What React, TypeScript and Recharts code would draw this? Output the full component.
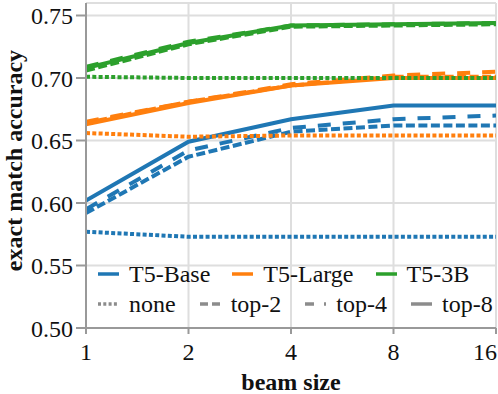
import React from 'react';
import { LineChart, Line, XAxis, YAxis, CartesianGrid, Legend, ReferenceLine } from 'recharts';

const FONT = 'Liberation Serif';

const beamSizes = [1, 2, 4, 8, 16];
const yTicks = [0.5, 0.55, 0.6, 0.65, 0.7, 0.75];

const baseNone = [0.577, 0.573, 0.573, 0.573, 0.573];
const baseTop2 = [0.592, 0.637, 0.657, 0.662, 0.662];
const baseTop4 = [0.595, 0.642, 0.660, 0.667, 0.670];
const baseTop8 = [0.602, 0.649, 0.667, 0.678, 0.678];

const largeNone = [0.656, 0.653, 0.654, 0.654, 0.654];
const largeTop2 = [0.664, 0.681, 0.694, 0.701, 0.701];
const largeTop4 = [0.665, 0.681, 0.695, 0.702, 0.705];
const largeTop8 = [0.663, 0.680, 0.694, 0.700, 0.700];

const xlNone = [0.701, 0.700, 0.700, 0.700, 0.700];
const xlTop2 = [0.706, 0.727, 0.741, 0.742, 0.743];
const xlTop4 = [0.709, 0.729, 0.742, 0.743, 0.744];
const xlTop8 = [0.708, 0.728, 0.742, 0.743, 0.744];

const models = [
  { key: 'base', name: 'T5-Base', color: '#1f77b4' },
  { key: 'large', name: 'T5-Large', color: '#ff7f0e' },
  { key: 'xl', name: 'T5-3B', color: '#2ca02c' },
];

const styles = [
  { key: 'none', name: 'none', dash: '4 2.3', legendDash: '3 2.3' },
  { key: 'top2', name: 'top-2', dash: '9 3.5', legendDash: '8 4' },
  { key: 'top4', name: 'top-4', dash: '13 12', legendDash: '9 10' },
  { key: 'top8', name: 'top-8', dash: undefined as string | undefined, legendDash: undefined as string | undefined },
];

const seriesValues: Record<string, number[]> = {
  base_none: baseNone, base_top2: baseTop2, base_top4: baseTop4, base_top8: baseTop8,
  large_none: largeNone, large_top2: largeTop2, large_top4: largeTop4, large_top8: largeTop8,
  xl_none: xlNone, xl_top2: xlTop2, xl_top4: xlTop4, xl_top8: xlTop8,
};

const data = beamSizes.map((b, i) => {
  const row: Record<string, number> = { beam: b };
  Object.keys(seriesValues).forEach((k) => { row[k] = seriesValues[k][i]; });
  return row;
});

const LEGEND_GRAY = '#8c8c8c';

const Sample = ({ color, dash }: { color: string; dash?: string }) => (
  <svg width={21} height={8} style={{ display: 'block', flex: 'none' }}>
    <line x1={0} y1={4} x2={21} y2={4} stroke={color} strokeWidth={3.5} strokeDasharray={dash} />
  </svg>
);

const LegendContent = () => (
  <div style={{ fontFamily: FONT, fontSize: 24, color: '#111', lineHeight: '30px', textAlign: 'left' }}>
    <div style={{ display: 'flex', alignItems: 'center', height: 30 }}>
      {models.map((m) => (
        <div key={m.key} style={{ display: 'flex', alignItems: 'center', marginRight: 22 }}>
          <Sample color={m.color} />
          <span style={{ marginLeft: 10, whiteSpace: 'nowrap' }}>{m.name}</span>
        </div>
      ))}
    </div>
    <div style={{ display: 'flex', alignItems: 'center', height: 30 }}>
      {styles.map((s) => (
        <div key={s.key} style={{ display: 'flex', alignItems: 'center', marginRight: 24 }}>
          <Sample color={LEGEND_GRAY} dash={s.legendDash} />
          <span style={{ marginLeft: 10, whiteSpace: 'nowrap' }}>{s.name}</span>
        </div>
      ))}
    </div>
  </div>
);

const YLabel = (props: any) => {
  const vb = props.viewBox || { x: 0, y: 3, width: 86, height: 325 };
  const cx = vb.x + 22;
  const cy = vb.y + vb.height / 2 - 5;
  return (
    <text
      transform={`translate(${cx}, ${cy}) rotate(-90)`}
      textAnchor="middle"
      fontFamily={FONT}
      fontSize={24}
      fontWeight="bold"
      fill="#111"
    >
      exact match accuracy
    </text>
  );
};

const XLabel = (props: any) => {
  const vb = props.viewBox || { x: 86, y: 328, width: 410, height: 66 };
  return (
    <text
      x={vb.x + vb.width / 2}
      y={vb.y + 62}
      textAnchor="middle"
      fontFamily={FONT}
      fontSize={24}
      fontWeight="bold"
      fill="#111"
    >
      beam size
    </text>
  );
};

const XTick = (props: any) => {
  const { x, y, payload, index } = props;
  const last = index === beamSizes.length - 1;
  return (
    <text
      x={x}
      y={y}
      dy="0.71em"
      textAnchor={last ? 'end' : 'middle'}
      dx={last ? 1 : 0}
      fontFamily={FONT}
      fontSize={24}
      fill="#111"
    >
      {payload.value}
    </text>
  );
};

const tickStyle = { fontFamily: FONT, fontSize: 24, fill: '#111' };

export default function App() {
  return (
    <div style={{ position: 'absolute', left: 0, top: 0, width: 498, height: 394, background: '#fff', fontFamily: FONT }}>
      <LineChart width={498} height={394} data={data} margin={{ top: 3, right: 2, bottom: 0, left: 0 }}>
        <CartesianGrid stroke="#dedede" strokeWidth={2} />
        <ReferenceLine y={0.76} stroke="#dedede" strokeWidth={2} ifOverflow="visible" />
        <XAxis
          dataKey="beam"
          type="number"
          scale="log"
          domain={[1, 16]}
          ticks={beamSizes}
          allowDataOverflow
          height={66}
          tickSize={6}
          tickMargin={9}
          stroke="#999"
          strokeWidth={2}
          tick={<XTick />}
          tickLine={{ stroke: '#999', strokeWidth: 2 }}
          interval={0}
          label={<XLabel />}
        />
        <YAxis
          type="number"
          domain={[0.5, 0.76]}
          ticks={yTicks}
          allowDataOverflow
          width={86}
          tickSize={10}
          tickMargin={3}
          stroke="#999"
          strokeWidth={2}
          tick={tickStyle}
          tickLine={{ stroke: '#999', strokeWidth: 2 }}
          tickFormatter={(v: number) => v.toFixed(2)}
          interval={0}
          label={<YLabel />}
        />
        {models.map((m) =>
          styles.map((s) => (
            <Line
              key={`${m.key}_${s.key}`}
              dataKey={`${m.key}_${s.key}`}
              type="linear"
              stroke={m.color}
              strokeWidth={4}
              strokeDasharray={s.dash}
              dot={false}
              activeDot={false}
              isAnimationActive={false}
            />
          ))
        )}
        <Legend
          layout="horizontal"
          verticalAlign="middle"
          align="center"
          content={<LegendContent />}
          wrapperStyle={{ position: 'absolute', left: 98, top: 259, width: 400, height: 60 }}
        />
      </LineChart>
    </div>
  );
}
